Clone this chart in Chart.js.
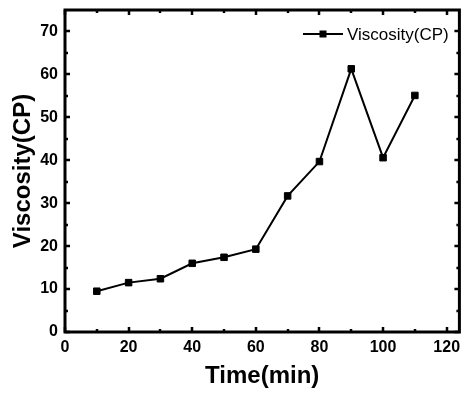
<!DOCTYPE html>
<html>
<head>
<meta charset="utf-8">
<script src="https://cdn.jsdelivr.net/npm/chart.js@4"></script>
<style>
  html, body { margin: 0; padding: 0; background: #fff; }
  #wrap { width: 465px; height: 393px; }
</style>
</head>
<body>
<div id="wrap"><canvas id="c" width="465" height="393"></canvas></div>
<script>
const timeMin = [10, 20, 30, 40, 50, 60, 70, 80, 90, 100, 110];
const viscosity = [9.5, 11.5, 12.4, 16.0, 17.4, 19.3, 31.7, 39.7, 61.3, 40.6, 55.1];
const xTickValues = [0, 20, 40, 60, 80, 100, 120];
const xMinorValues = [10, 30, 50, 70, 90, 110];
const yTickValues = [0, 10, 20, 30, 40, 50, 60, 70];
const yMinorValues = [5, 15, 25, 35, 45, 55, 65];
const seriesName = 'Viscosity(CP)';
const xTitle = 'Time(min)';
const yTitle = 'Viscosity(CP)';

const FONT = "'Liberation Sans', Arial, sans-serif";

const framePlugin = {
  id: 'frame',
  afterDatasetsDraw(chart) {
    const {ctx, chartArea: a, scales: {x, y}} = chart;
    ctx.save();
    ctx.strokeStyle = '#000';
    ctx.lineCap = 'butt';
    const drawX = (vals, len) => {
      vals.forEach(v => {
        const px = Math.round(x.getPixelForValue(v));
        ctx.beginPath();
        ctx.lineWidth = 2.5;
        ctx.moveTo(px, a.bottom); ctx.lineTo(px, a.bottom - len);
        ctx.moveTo(px, a.top); ctx.lineTo(px, a.top + len);
        ctx.stroke();
      });
    };
    const drawY = (vals, len) => {
      vals.forEach(v => {
        const py = Math.round(y.getPixelForValue(v));
        ctx.beginPath();
        ctx.lineWidth = 2.5;
        ctx.moveTo(a.left, py); ctx.lineTo(a.left + len, py);
        ctx.moveTo(a.right, py); ctx.lineTo(a.right - len, py);
        ctx.stroke();
      });
    };
    drawX(xTickValues, 5); drawX(xMinorValues, 3);
    drawY(yTickValues, 5); drawY(yMinorValues, 3);
    ctx.lineWidth = 3;
    ctx.strokeRect(a.left, a.top, a.right - a.left, a.bottom - a.top);
    ctx.restore();
  }
};

const legendPlugin = {
  id: 'legendBox',
  afterDraw(chart) {
    const {ctx, chartArea: a} = chart;
    const ds = chart.data.datasets[0];
    ctx.save();
    const yc = a.top + 24;
    const x0 = a.left + 238, x1 = x0 + 40;
    ctx.strokeStyle = '#000';
    ctx.lineWidth = 2;
    ctx.beginPath(); ctx.moveTo(x0, yc); ctx.lineTo(x1, yc); ctx.stroke();
    ctx.fillStyle = '#000';
    ctx.fillRect((x0 + x1) / 2 - 3.5, yc - 3.5, 7, 7);
    ctx.font = "17px " + FONT;
    ctx.textBaseline = 'middle';
    ctx.fillText(ds.label, x1 + 4, yc + 1);
    ctx.restore();
  }
};

new Chart(document.getElementById('c'), {
  type: 'line',
  data: {
    datasets: [{
      label: seriesName,
      data: timeMin.map((t, i) => ({x: t, y: viscosity[i]})),
      borderColor: '#000',
      backgroundColor: '#000',
      borderWidth: 2,
      pointStyle: 'rect',
      pointRadius: 4.6,
      pointBorderWidth: 1,
      tension: 0
    }]
  },
  options: {
    responsive: false,
    animation: false,
    devicePixelRatio: 1,
    layout: { padding: { top: 10, right: 3, left: 0, bottom: 0 } },
    plugins: {
      legend: { display: false },
      tooltip: { enabled: false }
    },
    scales: {
      x: {
        type: 'linear',
        min: 0,
        max: 124,
        afterBuildTicks: s => { s.ticks = xTickValues.map(v => ({value: v})); },
        afterFit: s => { s.height = 61; s.paddingLeft = 0; s.paddingRight = 0; },
        grid: { display: false, drawTicks: false },
        border: { display: false },
        ticks: {
          color: '#000',
          padding: 6,
          maxRotation: 0,
          font: { family: FONT, size: 16, weight: 'bold' }
        },
        title: {
          display: true,
          text: xTitle,
          color: '#000',
          padding: { top: 0, bottom: 2 },
          font: { family: FONT, size: 24, weight: 'bold' }
        }
      },
      y: {
        type: 'linear',
        min: 0,
        max: 75,
        afterBuildTicks: s => { s.ticks = yTickValues.map(v => ({value: v})); },
        afterFit: s => { s.width = 65; s.paddingTop = 0; s.paddingBottom = 0; },
        grid: { display: false, drawTicks: false },
        border: { display: false },
        ticks: {
          color: '#000',
          padding: 7,
          font: { family: FONT, size: 16, weight: 'bold' }
        },
        title: {
          display: true,
          text: yTitle,
          color: '#000',
          padding: { top: 9, bottom: 0 },
          font: { family: FONT, size: 24, weight: 'bold' }
        }
      }
    }
  },
  plugins: [framePlugin, legendPlugin]
});
</script>
</body>
</html>
